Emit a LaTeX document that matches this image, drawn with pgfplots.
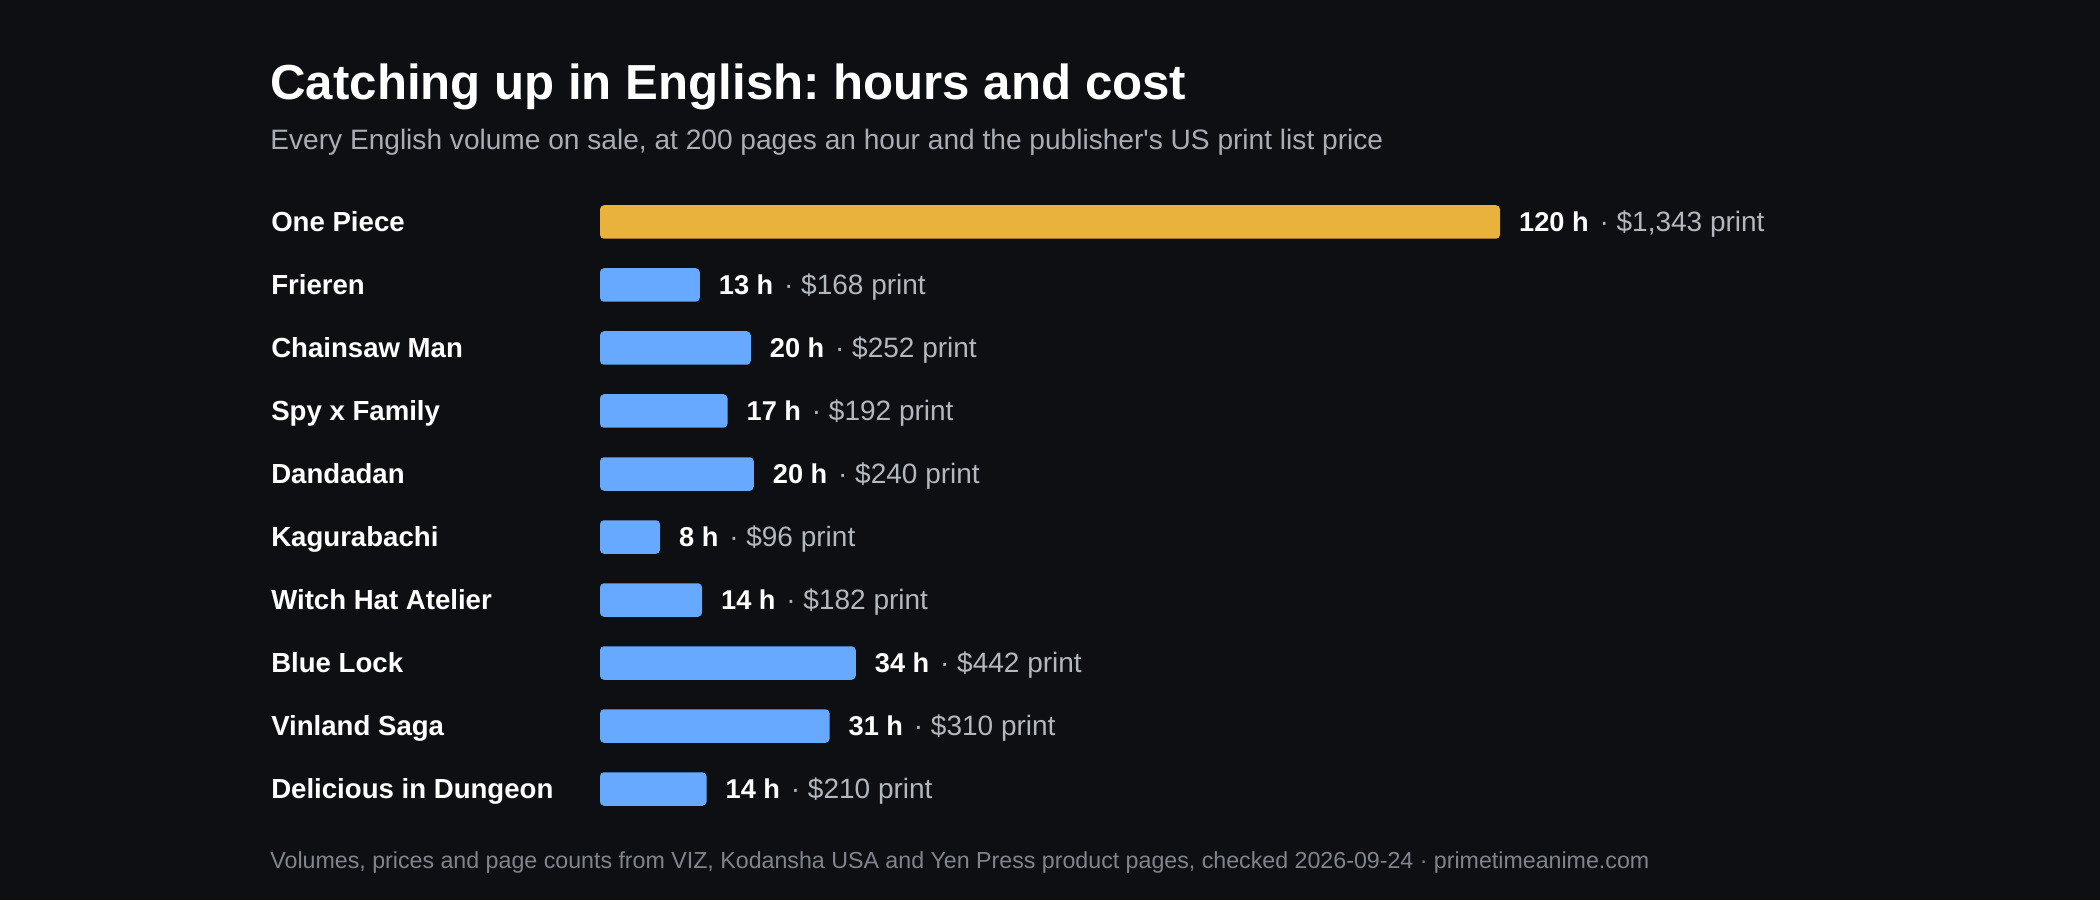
\documentclass[border=0pt]{standalone}
\usepackage{fontspec}
\setmainfont{Liberation Sans}
\usepackage{pgfplots}
\pgfplotsset{compat=1.18}
\usepackage{pgfplotstable}
\frenchspacing

\definecolor{bg}{HTML}{0D0F12}
\definecolor{gold}{HTML}{E9B23C}
\definecolor{sky}{HTML}{66A9FF}
\definecolor{subgray}{HTML}{A9ADB4}
\definecolor{pricegray}{HTML}{B3B7BE}
\definecolor{footgray}{HTML}{80858D}

% row, hours (bar), hours label, print price in USD
\pgfplotstableread{
row hrs lab price
0 120 120 1343
}\leader

\pgfplotstableread{
row hrs lab price
1 13.3 13 168
2 20.1 20 252
3 17.0 17 192
4 20.5 20 240
5 8.0 8 96
6 13.6 14 182
7 34.1 34 442
8 30.6 31 310
9 14.2 14 210
}\others

\begin{document}
\begin{tikzpicture}[x=1pt,y=1pt]
\path[use as bounding box, fill=bg] (0,0) rectangle (1050,450);

\node[anchor=base west, inner sep=0pt, text=white,
  font=\fontsize{24.6}{30}\selectfont\bfseries] at (135,400)
  {Catching up in English: hours and cost};
\node[anchor=base west, inner sep=0pt, text=subgray,
  font=\fontsize{14.05}{16}\selectfont] at (135,375)
  {Every English volume on sale, at 200 pages an hour and the publisher\textquotesingle s US print list price};
\node[anchor=base west, inner sep=0pt, text=footgray,
  font=\fontsize{11.6}{14}\selectfont] at (135,16)
  {Volumes, prices and page counts from VIZ, Kodansha USA and Yen Press product pages, checked 2026-09-24 · primetimeanime.com};

\begin{axis}[
  at={(300pt,39.75pt)}, anchor=south west,
  width=450pt, height=315pt, scale only axis,
  xmin=0, xmax=120, ymin=-0.5, ymax=9.5, y dir=reverse,
  clip=false,
  axis line style={draw=none},
  tick style={draw=none},
  xtick=\empty,
  ytick={0,...,9},
  yticklabels={One Piece,Frieren,Chainsaw Man,Spy x Family,Dandadan,Kagurabachi,Witch Hat Atelier,Blue Lock,Vinland Saga,Delicious in Dungeon},
  yticklabel style={anchor=base west, xshift=-160.3pt, yshift=-4.9pt,
    inner sep=0pt, text=white, font=\fontsize{13.8}{16}\selectfont\bfseries},
  xbar, bar width=16.75pt, bar shift=0pt,
  /pgf/number format/assume math mode=true,
  point meta=explicit symbolic,
  visualization depends on={\thisrow{price}\as\price},
  nodes near coords={{\bfseries\color{white}\pgfplotspointmeta~h}{\fontsize{14}{16}\selectfont\color{pricegray}\hspace{1.5pt}~·~\$\pgfmathprintnumber[fixed,precision=0,1000 sep={,}]{\price}~print}},
  every node near coord/.append style={anchor=base west, inner sep=0pt,
    xshift=9.4pt, yshift=-4.9pt, font=\fontsize{13.6}{16}\selectfont},
]
\addplot[draw=none, fill=gold, rounded corners=2pt]
  table[x=hrs, y=row, meta=lab] {\leader};
\addplot[draw=none, fill=sky, rounded corners=2pt]
  table[x=hrs, y=row, meta=lab] {\others};
\end{axis}
\end{tikzpicture}
\end{document}
